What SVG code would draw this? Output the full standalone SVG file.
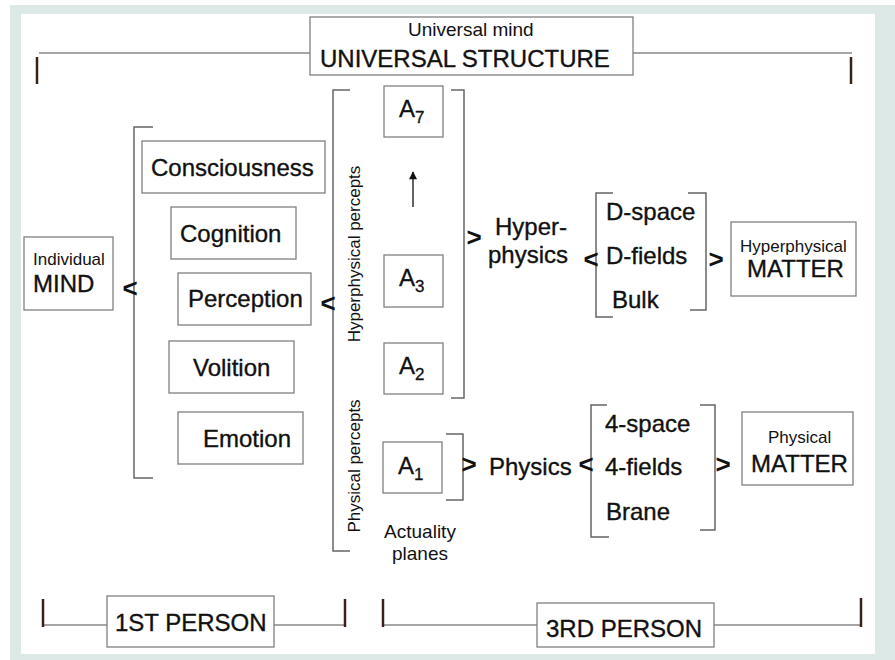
<svg xmlns="http://www.w3.org/2000/svg" width="895" height="660" viewBox="0 0 895 660">
<style>
.box{fill:#fff;stroke:#808080;stroke-width:1.3}
.t{font-family:"Liberation Sans",Arial,sans-serif;fill:#111}
.l{font-size:24px;stroke:#111;stroke-width:0.35}
.s{font-size:17px}
.br{fill:none;stroke:#666;stroke-width:1.5}
.ln{stroke:#888;stroke-width:1.4}
.tk{stroke:#3a2218;stroke-width:2.5}
.sym{font-family:"Liberation Sans",Arial,sans-serif;font-size:26px;font-weight:bold;fill:#111;text-anchor:middle}
</style>
<defs>
<marker id="ah" viewBox="0 0 10 10" refX="9" refY="5" markerWidth="9" markerHeight="8" markerUnits="userSpaceOnUse" orient="auto">
<path d="M0,0 L10,5 L0,10 z" fill="#111"/>
</marker>
</defs>
<rect x="0" y="0" width="895" height="660" fill="#fff"/>
<rect x="10" y="5" width="885" height="655" fill="#dde9e6"/>
<rect x="21" y="14" width="854" height="640" fill="#fff"/>

<g id="connectors">
<line class="ln" x1="39" y1="53" x2="310" y2="53"/>
<line class="ln" x1="633" y1="53" x2="852" y2="53"/>
<line class="tk" x1="37" y1="57" x2="37" y2="84"/>
<line class="tk" x1="851" y1="57" x2="851" y2="84"/>
<path class="br" d="M153,127 H134 V478 H153"/>
<path class="br" d="M350,90 H333 V551 H350"/>
<path class="br" d="M451,90 H464 V398 H451"/>
<path class="br" d="M446,434 H463 V500 H446"/>
<path class="br" d="M613,193 H596 V317 H613"/>
<path class="br" d="M688,193 H706 V310 H690"/>
<path class="br" d="M607,405 H591 V537 H609"/>
<path class="br" d="M700,405 H715 V530 H700"/>
<line x1="413" y1="207" x2="413" y2="172" stroke="#111" stroke-width="1.3" marker-end="url(#ah)"/>
<text class="sym" x="130" y="297">&lt;</text>
<text class="sym" x="328" y="312">&lt;</text>
<text class="sym" x="474" y="246">&gt;</text>
<text class="sym" x="591" y="268">&lt;</text>
<text class="sym" x="716" y="268">&gt;</text>
<text class="sym" x="469" y="473">&gt;</text>
<text class="sym" x="586" y="473">&lt;</text>
<text class="sym" x="723" y="473">&gt;</text>
<line class="ln" x1="43" y1="625" x2="107" y2="625"/>
<line class="ln" x1="274" y1="625" x2="345" y2="625"/>
<line class="ln" x1="383" y1="625" x2="537" y2="625"/>
<line class="ln" x1="714" y1="625" x2="861" y2="625"/>
<line class="tk" x1="43" y1="599" x2="43" y2="627"/>
<line class="tk" x1="345" y1="599" x2="345" y2="627"/>
<line class="tk" x1="383" y1="599" x2="383" y2="627"/>
<line class="tk" x1="861" y1="598" x2="861" y2="627"/>
</g>

<g id="universal">
<rect class="box" x="310" y="17" width="323" height="58"/>
<text class="t" x="408" y="36" font-size="19">Universal mind</text>
<text class="t l" x="320" y="67">UNIVERSAL STRUCTURE</text>
</g>
<g id="mind">
<rect class="box" x="24" y="237" width="89" height="73"/>
<text class="t s" x="33" y="265">Individual</text>
<text class="t l" x="33" y="292">MIND</text>
</g>
<g id="consciousness">
<rect class="box" x="142" y="141" width="183" height="52"/>
<text class="t l" x="151" y="176">Consciousness</text>
</g>
<g id="cognition">
<rect class="box" x="171" y="207" width="125" height="52"/>
<text class="t l" x="180" y="242">Cognition</text>
</g>
<g id="perception">
<rect class="box" x="178" y="273" width="133" height="52"/>
<text class="t l" x="188" y="307">Perception</text>
</g>
<g id="volition">
<rect class="box" x="169" y="341" width="125" height="52"/>
<text class="t l" x="193" y="376">Volition</text>
</g>
<g id="emotion">
<rect class="box" x="178" y="412" width="125" height="52"/>
<text class="t l" x="203" y="447">Emotion</text>
</g>
<g id="percept-labels">
<text class="t s" transform="translate(360,254) rotate(-90)" text-anchor="middle">Hyperphysical percepts</text>
<text class="t s" transform="translate(360,466) rotate(-90)" text-anchor="middle">Physical percepts</text>
</g>
<g id="a7">
<rect class="box" x="384" y="86" width="59" height="51"/>
<text class="t" x="399" y="117" font-size="24" stroke="#111" stroke-width="0.3">A<tspan font-size="17" dy="6">7</tspan></text>
</g>
<g id="a3">
<rect class="box" x="384" y="255" width="59" height="52"/>
<text class="t" x="399" y="286" font-size="24" stroke="#111" stroke-width="0.3">A<tspan font-size="17" dy="6">3</tspan></text>
</g>
<g id="a2">
<rect class="box" x="384" y="343" width="59" height="51"/>
<text class="t" x="399" y="374" font-size="24" stroke="#111" stroke-width="0.3">A<tspan font-size="17" dy="6">2</tspan></text>
</g>
<g id="a1">
<rect class="box" x="383" y="442" width="59" height="51"/>
<text class="t" x="398" y="474" font-size="24" stroke="#111" stroke-width="0.3">A<tspan font-size="17" dy="6">1</tspan></text>
</g>
<g id="actuality">
<text class="t" x="420" y="538" font-size="19" text-anchor="middle">Actuality</text>
<text class="t" x="420" y="560" font-size="19" text-anchor="middle">planes</text>
</g>
<g id="hyperphysics">
<text class="t l" x="495" y="235">Hyper-</text>
<text class="t l" x="488" y="263">physics</text>
</g>
<g id="d-items">
<text class="t l" x="606" y="220">D-space</text>
<text class="t l" x="606" y="264">D-fields</text>
<text class="t l" x="612" y="308">Bulk</text>
</g>
<g id="hyper-matter">
<rect class="box" x="731" y="222" width="125" height="74"/>
<text class="t s" x="740" y="252">Hyperphysical</text>
<text class="t l" x="747" y="277">MATTER</text>
</g>
<g id="physics">
<text class="t l" x="489" y="475">Physics</text>
</g>
<g id="four-items">
<text class="t l" x="605" y="432">4-space</text>
<text class="t l" x="605" y="475">4-fields</text>
<text class="t l" x="606" y="520">Brane</text>
</g>
<g id="phys-matter">
<rect class="box" x="742" y="412" width="111" height="73"/>
<text class="t s" x="768" y="443">Physical</text>
<text class="t l" x="751" y="472">MATTER</text>
</g>
<g id="first-person">
<rect class="box" x="107" y="596" width="167" height="51"/>
<text class="t l" x="115" y="631">1ST PERSON</text>
</g>
<g id="third-person">
<rect class="box" x="537" y="603" width="177" height="44"/>
<text class="t l" x="546" y="637">3RD PERSON</text>
</g>
</svg>
